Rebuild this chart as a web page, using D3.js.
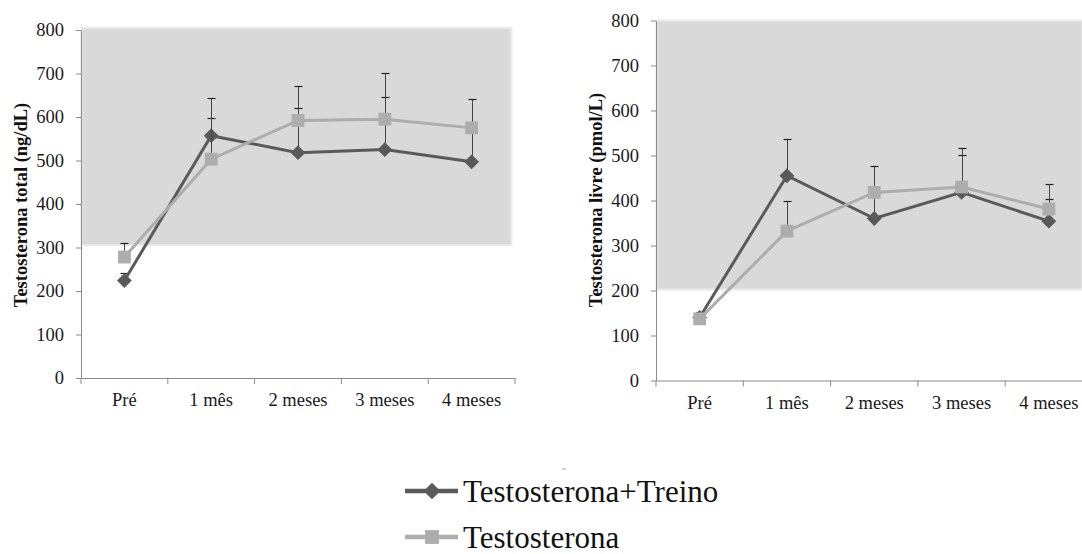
<!DOCTYPE html>
<html>
<head>
<meta charset="utf-8">
<script src="https://cdn.jsdelivr.net/npm/d3@7"></script>
<style>
  html, body { margin: 0; padding: 0; background: #fff; }
  svg { display: block; }
</style>
</head>
<body>
<svg id="chart" width="1082" height="554"></svg>
<script>
// ---- data ----
const categories = ["Pré", "1 mês", "2 meses", "3 meses", "4 meses"];
const yTicks = [0, 100, 200, 300, 400, 500, 600, 700, 800];
const seriesNames = ["Testosterona+Treino", "Testosterona"];

// Left panel: Testosterona total (ng/dL)
const totalTreino = [224, 557, 518, 525, 497];
const totalTreinoErr = [241, 597, 621, 645, 575];
const totalTesto = [278, 503, 592, 595, 575];
const totalTestoErr = [311, 643, 671, 701, 641];
const totalRefRange = [305, 805];

// Right panel: Testosterona livre (pmol/L)
const livreTreino = [140, 455, 360, 418, 354];
const livreTreinoErr = [153, 537, 410, 501, 403];
const livreTesto = [137, 332, 418, 430, 381];
const livreTestoErr = [150, 398, 477, 517, 436];
const livreRefRange = [202, 800];

// ---- drawing ----
const FONT = '"Liberation Serif"';
const svg = d3.select("#chart");
const darkCol = "#5a5a5a", lightCol = "#adadad", axisCol = "#8a8a8a";

function panel(opt) {
  const x = d3.scaleBand().domain(categories).range([opt.x0, opt.x1]);
  const y = d3.scaleLinear().domain([0, 800]).range([opt.y0, opt.y1]);
  const g = svg.append("g");

  // reference band
  g.append("rect")
    .attr("x", opt.x0 + 0.5)
    .attr("y", y(opt.ref[1]))
    .attr("width", Math.min(opt.bandRight, 1082) - opt.x0)
    .attr("height", y(opt.ref[0]) - y(opt.ref[1]))
    .attr("fill", "#d9d9d9")
    .attr("stroke", "#ebebeb").attr("stroke-width", 2);

  // y axis
  const ya = g.append("g").attr("transform", `translate(${opt.x0},0)`)
    .call(d3.axisLeft(y).tickValues(yTicks).tickSize(5).tickPadding(12).tickSizeOuter(0));
  ya.select(".domain").attr("stroke", axisCol);
  ya.selectAll(".tick line").attr("stroke", axisCol);
  ya.selectAll(".tick text").attr("fill", "#1a1a1a")
    .style("font-family", FONT).style("font-size", "18.5px");

  // x axis (labels)
  const xa = g.append("g").attr("transform", `translate(0,${opt.y0})`)
    .call(d3.axisBottom(x).tickSize(0).tickPadding(15).tickSizeOuter(0));
  xa.select(".domain").attr("stroke", axisCol);
  xa.selectAll(".tick text").attr("fill", "#1a1a1a")
    .style("font-family", FONT).style("font-size", "18.5px");
  // boundary ticks
  const bounds = categories.map(c => x(c)).concat([x(categories[categories.length - 1]) + x.bandwidth()]);
  g.selectAll("line.bt").data(bounds).join("line").attr("class", "bt")
    .attr("x1", d => d).attr("x2", d => d)
    .attr("y1", opt.y0).attr("y2", opt.y0 + 6)
    .attr("stroke", axisCol);

  // y title
  g.append("text")
    .attr("transform", `translate(${opt.titleX},${opt.titleY}) rotate(-90)`)
    .attr("text-anchor", "middle")
    .style("font-family", FONT).style("font-size", "18.5px").style("font-weight", "bold")
    .attr("fill", "#111")
    .text(opt.title);

  const cx = c => x(c) + x.bandwidth() / 2;
  const line = d3.line().x((d, i) => cx(categories[i])).y(d => y(d));

  const series = [
    { vals: opt.a, err: opt.aErr, col: darkCol, shape: "diamond" },
    { vals: opt.b, err: opt.bErr, col: lightCol, shape: "square" }
  ];

  series.forEach(s => {
    const eb = g.append("g");
    s.vals.forEach((v, i) => {
      const xc = Math.round(cx(categories[i])) + 0.5;
      eb.append("line").attr("x1", xc).attr("x2", xc)
        .attr("y1", y(v)).attr("y2", y(s.err[i])).attr("stroke", "#444").attr("stroke-width", 1);
      eb.append("line").attr("x1", xc - 4).attr("x2", xc + 4)
        .attr("y1", Math.round(y(s.err[i])) + 0.5).attr("y2", Math.round(y(s.err[i])) + 0.5)
        .attr("stroke", "#222").attr("stroke-width", 1.2);
    });
    g.append("path").datum(s.vals).attr("d", line)
      .attr("fill", "none").attr("stroke", s.col).attr("stroke-width", 3);
    const sym = s.shape === "diamond"
      ? d3.symbol().type(d3.symbolSquare).size(110)
      : d3.symbol().type(d3.symbolSquare).size(165);
    g.selectAll(null).data(s.vals).join("path")
      .attr("d", sym)
      .attr("transform", (d, i) => `translate(${cx(categories[i])},${y(d)})` + (s.shape === "diamond" ? " rotate(45)" : ""))
      .attr("fill", s.col);
  });
}

panel({ x0: 81, x1: 515, y0: 378, y1: 30, bandRight: 511, ref: totalRefRange,
  a: totalTreino, aErr: totalTreinoErr, b: totalTesto, bErr: totalTestoErr,
  title: "Testosterona total (ng/dL)", titleX: 27, titleY: 205 });

panel({ x0: 656, x1: 1092.5, y0: 380.5, y1: 20.5, bandRight: 1083, ref: livreRefRange,
  a: livreTreino, aErr: livreTreinoErr, b: livreTesto, bErr: livreTestoErr,
  title: "Testosterona livre (pmol/L)", titleX: 602, titleY: 200 });

// ---- legend ----
const leg = svg.append("g");
leg.append("line").attr("x1", 562).attr("x2", 566).attr("y1", 469).attr("y2", 469)
  .attr("stroke", "#b9c3d0").attr("stroke-width", 1.5);
const legendRows = [
  { name: seriesNames[0], col: darkCol, shape: "diamond", y: 491 },
  { name: seriesNames[1], col: lightCol, shape: "square", y: 537 }
];
legendRows.forEach(r => {
  leg.append("line").attr("x1", 405).attr("x2", 458).attr("y1", r.y).attr("y2", r.y)
    .attr("stroke", r.col).attr("stroke-width", 4.5);
  const sym = r.shape === "diamond"
    ? d3.symbol().type(d3.symbolSquare).size(140)
    : d3.symbol().type(d3.symbolSquare).size(190);
  leg.append("path").attr("d", sym)
    .attr("transform", `translate(432,${r.y})` + (r.shape === "diamond" ? " rotate(45)" : ""))
    .attr("fill", r.col);
  leg.append("text").attr("x", 463).attr("y", r.y + 10.5)
    .style("font-family", FONT).style("font-size", "31px")
    .attr("fill", "#111").text(r.name);
});
</script>
</body>
</html>
